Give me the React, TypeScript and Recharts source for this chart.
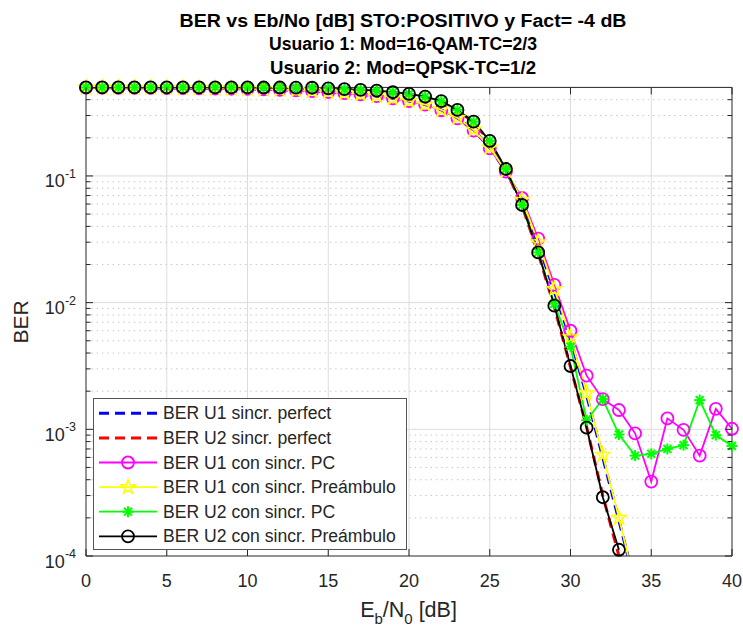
import React from "react"
import { LineChart, Line, XAxis, YAxis, ReferenceLine } from "recharts"

const FONT = '"Liberation Sans", Arial, Helvetica, sans-serif'
const AXIS = "#262626"
const GRID_MAJOR = "#dcdcdc"
const GRID_MINOR = "#c8c8c8"

// Eb/No [dB]
const ebno = [
  0, 1, 2, 3, 4, 5, 6, 7, 8, 9, 10, 11, 12, 13, 14, 15, 16, 17, 18, 19, 20,
  21, 22, 23, 24, 25, 26, 27, 28, 29, 30, 31, 32, 33, 34, 35, 36, 37, 38, 39, 40,
]
const xTicks = [0, 5, 10, 15, 20, 25, 30, 35, 40]
const yMajor = [1e-4, 1e-3, 1e-2, 1e-1]
const yMinor = [
  2e-4, 3e-4, 4e-4, 5e-4, 6e-4, 7e-4, 8e-4, 9e-4,
  2e-3, 3e-3, 4e-3, 5e-3, 6e-3, 7e-3, 8e-3, 9e-3,
  2e-2, 3e-2, 4e-2, 5e-2, 6e-2, 7e-2, 8e-2, 9e-2,
  0.2, 0.3, 0.4,
]
const yTicks = [...yMajor, ...yMinor].sort((a, b) => a - b)

const berU1Perfect = [
  0.498, 0.498, 0.497, 0.497, 0.496, 0.495, 0.494, 0.493, 0.491, 0.489, 0.487,
  0.484, 0.48, 0.475, 0.469, 0.461, 0.452, 0.441, 0.428, 0.411, 0.391,
  0.366, 0.332, 0.287, 0.23, 0.167, 0.109, 0.063, 0.029, 0.0122, 0.0051,
  0.00185, 0.0006, 0.00019, 0.00006, null, null, null, null, null, null,
]
const berU2Perfect = [
  0.5, 0.5, 0.5, 0.5, 0.5, 0.5, 0.5, 0.5, 0.5, 0.5, 0.5,
  0.499, 0.498, 0.497, 0.495, 0.49, 0.482, 0.476, 0.469, 0.456, 0.442,
  0.42, 0.386, 0.329, 0.265, 0.186, 0.112, 0.058, 0.0245, 0.0092, 0.0031,
  0.00104, 0.0003, 0.0001, 0.00003, null, null, null, null, null, null,
]
const berU1PC = [
  0.497, 0.497, 0.496, 0.496, 0.495, 0.494, 0.493, 0.492, 0.49, 0.488, 0.486,
  0.483, 0.479, 0.474, 0.468, 0.46, 0.451, 0.44, 0.427, 0.41, 0.39,
  0.365, 0.33, 0.285, 0.228, 0.165, 0.108, 0.067, 0.032, 0.0138, 0.006,
  0.00265, 0.00173, 0.00142, 0.00093, 0.000387, 0.00122, 0.00099, 0.00062, 0.00145, 0.00101,
]
const berU1Pre = [
  0.498, 0.498, 0.497, 0.497, 0.496, 0.495, 0.494, 0.493, 0.492, 0.49, 0.488,
  0.485, 0.481, 0.476, 0.47, 0.462, 0.453, 0.442, 0.429, 0.412, 0.392,
  0.367, 0.333, 0.288, 0.232, 0.168, 0.11, 0.065, 0.03, 0.0128, 0.00533,
  0.00193, 0.00063, 0.0002, 0.000059, null, null, null, null, null, null,
]
const berU2PC = [
  0.5, 0.5, 0.5, 0.5, 0.5, 0.5, 0.5, 0.5, 0.5, 0.5, 0.5,
  0.499, 0.499, 0.498, 0.497, 0.492, 0.484, 0.478, 0.471, 0.458, 0.444,
  0.423, 0.389, 0.332, 0.268, 0.189, 0.1135, 0.059, 0.0249, 0.0098, 0.0045,
  0.00118, 0.00173, 0.00091, 0.00062, 0.00064, 0.0007, 0.00075, 0.0017, 0.0009, 0.00074,
]
const berU2Pre = [
  0.5, 0.5, 0.5, 0.5, 0.5, 0.5, 0.5, 0.5, 0.5, 0.5, 0.5,
  0.499, 0.499, 0.498, 0.497, 0.492, 0.484, 0.478, 0.471, 0.458, 0.444,
  0.423, 0.389, 0.332, 0.268, 0.189, 0.1135, 0.059, 0.0249, 0.00946, 0.00316,
  0.00103, 0.000291, 0.000112, null, null, null, null, null, null, null,
]

type Marker = "circle" | "star" | "asterisk" | null

const series: {
  key: string
  name: string
  values: (number | null)[]
  color: string
  width: number
  dash?: string
  marker: Marker
}[] = [
  { key: "u1Perfect", name: "BER U1 sincr. perfect", values: berU1Perfect, color: "#0000ff", width: 3, dash: "10 6", marker: null },
  { key: "u2Perfect", name: "BER U2 sincr. perfect", values: berU2Perfect, color: "#ff0000", width: 3, dash: "10 6", marker: null },
  { key: "u1PC", name: "BER U1 con sincr. PC", values: berU1PC, color: "#ff00ff", width: 1.8, marker: "circle" },
  { key: "u1Pre", name: "BER U1 con sincr. Preámbulo", values: berU1Pre, color: "#ffff00", width: 1.8, marker: "star" },
  { key: "u2PC", name: "BER U2 con sincr. PC", values: berU2PC, color: "#00ff00", width: 1.8, marker: "asterisk" },
  { key: "u2Pre", name: "BER U2 con sincr. Preámbulo", values: berU2Pre, color: "#000000", width: 1.8, marker: "circle" },
]

const data = ebno.map((x, i) => {
  const row: Record<string, number | null> = { x }
  series.forEach((s) => {
    const v = s.values[i]
    row[s.key] = v
    row[s.key + "_m"] = v != null && v >= 1e-4 ? v : null
  })
  return row
})

function starPoints(cx: number, cy: number, R: number, r: number) {
  const pts: string[] = []
  for (let i = 0; i < 10; i++) {
    const a = -Math.PI / 2 + (i * Math.PI) / 5
    const rad = i % 2 === 0 ? R : r
    pts.push(`${cx + rad * Math.cos(a)},${cy + rad * Math.sin(a)}`)
  }
  return pts.join(" ")
}

function MarkerShape({ type, cx, cy, color }: { type: Marker; cx: number; cy: number; color: string }) {
  if (type === "circle") {
    return <circle cx={cx} cy={cy} r={6} fill="none" stroke={color} strokeWidth={1.8} />
  }
  if (type === "star") {
    return <polygon points={starPoints(cx, cy, 7.5, 3)} fill="none" stroke={color} strokeWidth={1.5} />
  }
  if (type === "asterisk") {
    const a = 5.5
    const d = a * 0.72
    return (
      <g stroke={color} strokeWidth={2}>
        <line x1={cx - a} x2={cx + a} y1={cy} y2={cy} />
        <line x1={cx} x2={cx} y1={cy - a} y2={cy + a} />
        <line x1={cx - d} x2={cx + d} y1={cy - d} y2={cy + d} />
        <line x1={cx - d} x2={cx + d} y1={cy + d} y2={cy - d} />
      </g>
    )
  }
  return null
}

const markerDot = (type: Marker, color: string) => (props: any) => {
  const { cx, cy, index } = props
  if (cx == null || cy == null || Number.isNaN(cy)) return <g key={index} />
  return (
    <g key={index}>
      <MarkerShape type={type} cx={cx} cy={cy} color={color} />
    </g>
  )
}

const isMajor = (v: number) => yMajor.some((m) => Math.abs(m - v) / m < 1e-6)

function LeftTick({ x, y, payload }: any) {
  const major = isMajor(payload.value)
  const exp = Math.round(Math.log10(payload.value))
  return (
    <g>
      <line x1={x} x2={x + (major ? 7 : 4.5)} y1={y} y2={y} stroke={AXIS} />
      {major && (
        <text x={x - 10} y={y + 11.5} textAnchor="end" fill={AXIS} fontSize={18} fontFamily={FONT}>
          10
          <tspan dy={-9.5} fontSize={12.5}>
            {String(exp)}
          </tspan>
        </text>
      )}
    </g>
  )
}

function RightTick({ x, y, payload }: any) {
  const major = isMajor(payload.value)
  return <line x1={x} x2={x - (major ? 7 : 4.5)} y1={y} y2={y} stroke={AXIS} />
}

function BottomTick({ x, y, payload }: any) {
  return (
    <g>
      <line x1={x} x2={x} y1={y} y2={y - 7} stroke={AXIS} />
      <text x={x} y={y + 30.5} textAnchor="middle" fill={AXIS} fontSize={18} fontFamily={FONT}>
        {payload.value}
      </text>
    </g>
  )
}

function TopTick({ x, y }: any) {
  return <line x1={x} x2={x} y1={y} y2={y + 7} stroke={AXIS} />
}

const titleLines = [
  "BER vs Eb/No [dB] STO:POSITIVO y Fact= -4 dB",
  "Usuario 1: Mod=16-QAM-TC=2/3",
  "Usuario 2: Mod=QPSK-TC=1/2",
]
const titleWidths = [447, 268, 266]

function Overlay() {
  const lx = 93
  const ly = 398
  const rowStart = 15.3
  const rowStep = 24.6
  return (
    <svg width={743} height={625} style={{ position: "absolute", left: 0, top: 0, pointerEvents: "none" }}>
      {titleLines.map((t, i) => (
        <text
          key={t}
          x={403}
          y={26.5 + i * 23.5}
          textAnchor="middle"
          fontWeight="bold"
          fontSize={17.5}
          fontFamily={FONT}
          fill="#000"
          textLength={titleWidths[i]}
          lengthAdjust="spacingAndGlyphs"
        >
          {t}
        </text>
      ))}
      <text
        x={0}
        y={0}
        transform="translate(28,322) rotate(-90)"
        textAnchor="middle"
        fontSize={21}
        fontFamily={FONT}
        fill={AXIS}
      >
        BER
      </text>
      <text x={408.5} y={616.5} textAnchor="middle" fontSize={21.5} fontFamily={FONT} fill={AXIS}>
        E<tspan dy={7} fontSize={15}>b</tspan>
        <tspan dy={-7}>/N</tspan>
        <tspan dy={7} fontSize={15}>0</tspan>
        <tspan dy={-7}> [dB]</tspan>
      </text>
      <rect x={lx + 0.5} y={ly + 0.5} width={313} height={151} fill="#fff" stroke="#555" strokeWidth={1} />
      {series.map((s, i) => {
        const cy = ly + rowStart + i * rowStep
        return (
          <g key={s.key}>
            <line x1={99} x2={157} y1={cy} y2={cy} stroke={s.color} strokeWidth={s.width} strokeDasharray={s.dash} />
            {s.marker && <MarkerShape type={s.marker} cx={128} cy={cy} color={s.color} />}
            <text x={163} y={cy + 6} fontSize={17.6} fontFamily={FONT} fill={AXIS}>
              {s.name}
            </text>
          </g>
        )
      })}
    </svg>
  )
}

export default function App() {
  return (
    <div style={{ position: "absolute", left: 0, top: 0, width: 743, height: 625, background: "#fff", fontFamily: FONT }}>
      <LineChart width={743} height={625} data={data} margin={{ top: 77.4, right: 1, bottom: 29, left: 26 }}>
        <XAxis
          xAxisId="b"
          dataKey="x"
          type="number"
          domain={[0, 40]}
          ticks={xTicks}
          interval={0}
          height={40}
          tickSize={0}
          tickMargin={0}
          tickLine={false}
          tick={<BottomTick />}
          axisLine={{ stroke: AXIS, strokeWidth: 1 }}
        />
        <XAxis
          xAxisId="t"
          orientation="top"
          dataKey="x"
          type="number"
          domain={[0, 40]}
          ticks={xTicks}
          interval={0}
          height={10}
          tickSize={0}
          tickMargin={0}
          tickLine={false}
          tick={<TopTick />}
          axisLine={{ stroke: AXIS, strokeWidth: 1 }}
        />
        <YAxis
          yAxisId="l"
          scale="log"
          domain={[1e-4, 0.5]}
          allowDataOverflow
          ticks={yTicks}
          interval={0}
          width={60}
          tickSize={0}
          tickMargin={0}
          tickLine={false}
          tick={<LeftTick />}
          axisLine={{ stroke: AXIS, strokeWidth: 1 }}
        />
        <YAxis
          yAxisId="r"
          orientation="right"
          scale="log"
          domain={[1e-4, 0.5]}
          ticks={yTicks}
          interval={0}
          width={10}
          tickSize={0}
          tickMargin={0}
          tickLine={false}
          tick={<RightTick />}
          axisLine={{ stroke: AXIS, strokeWidth: 1 }}
        />
        {xTicks.slice(1, -1).map((v) => (
          <ReferenceLine key={"gx" + v} xAxisId="b" yAxisId="l" x={v} stroke={GRID_MAJOR} strokeWidth={1} />
        ))}
        {yMinor.map((v) => (
          <ReferenceLine key={"gm" + v} xAxisId="b" yAxisId="l" y={v} stroke={GRID_MINOR} strokeWidth={1} strokeDasharray="1.5 3.8" />
        ))}
        {yMajor.slice(1).map((v) => (
          <ReferenceLine key={"gy" + v} xAxisId="b" yAxisId="l" y={v} stroke={GRID_MAJOR} strokeWidth={1} />
        ))}
        {series.map((s) => [
          <Line
            key={s.key}
            xAxisId="b"
            yAxisId="l"
            type="linear"
            dataKey={s.key}
            name={s.name}
            stroke={s.color}
            strokeWidth={s.width}
            strokeDasharray={s.dash}
            dot={false}
            activeDot={false}
            isAnimationActive={false}
          />,
          s.marker ? (
            <Line
              key={s.key + "_m"}
              xAxisId="b"
              yAxisId="r"
              type="linear"
              dataKey={s.key + "_m"}
              stroke="none"
              legendType="none"
              dot={markerDot(s.marker, s.color)}
              activeDot={false}
              isAnimationActive={false}
            />
          ) : null,
        ])}
      </LineChart>
      <Overlay />
    </div>
  )
}
